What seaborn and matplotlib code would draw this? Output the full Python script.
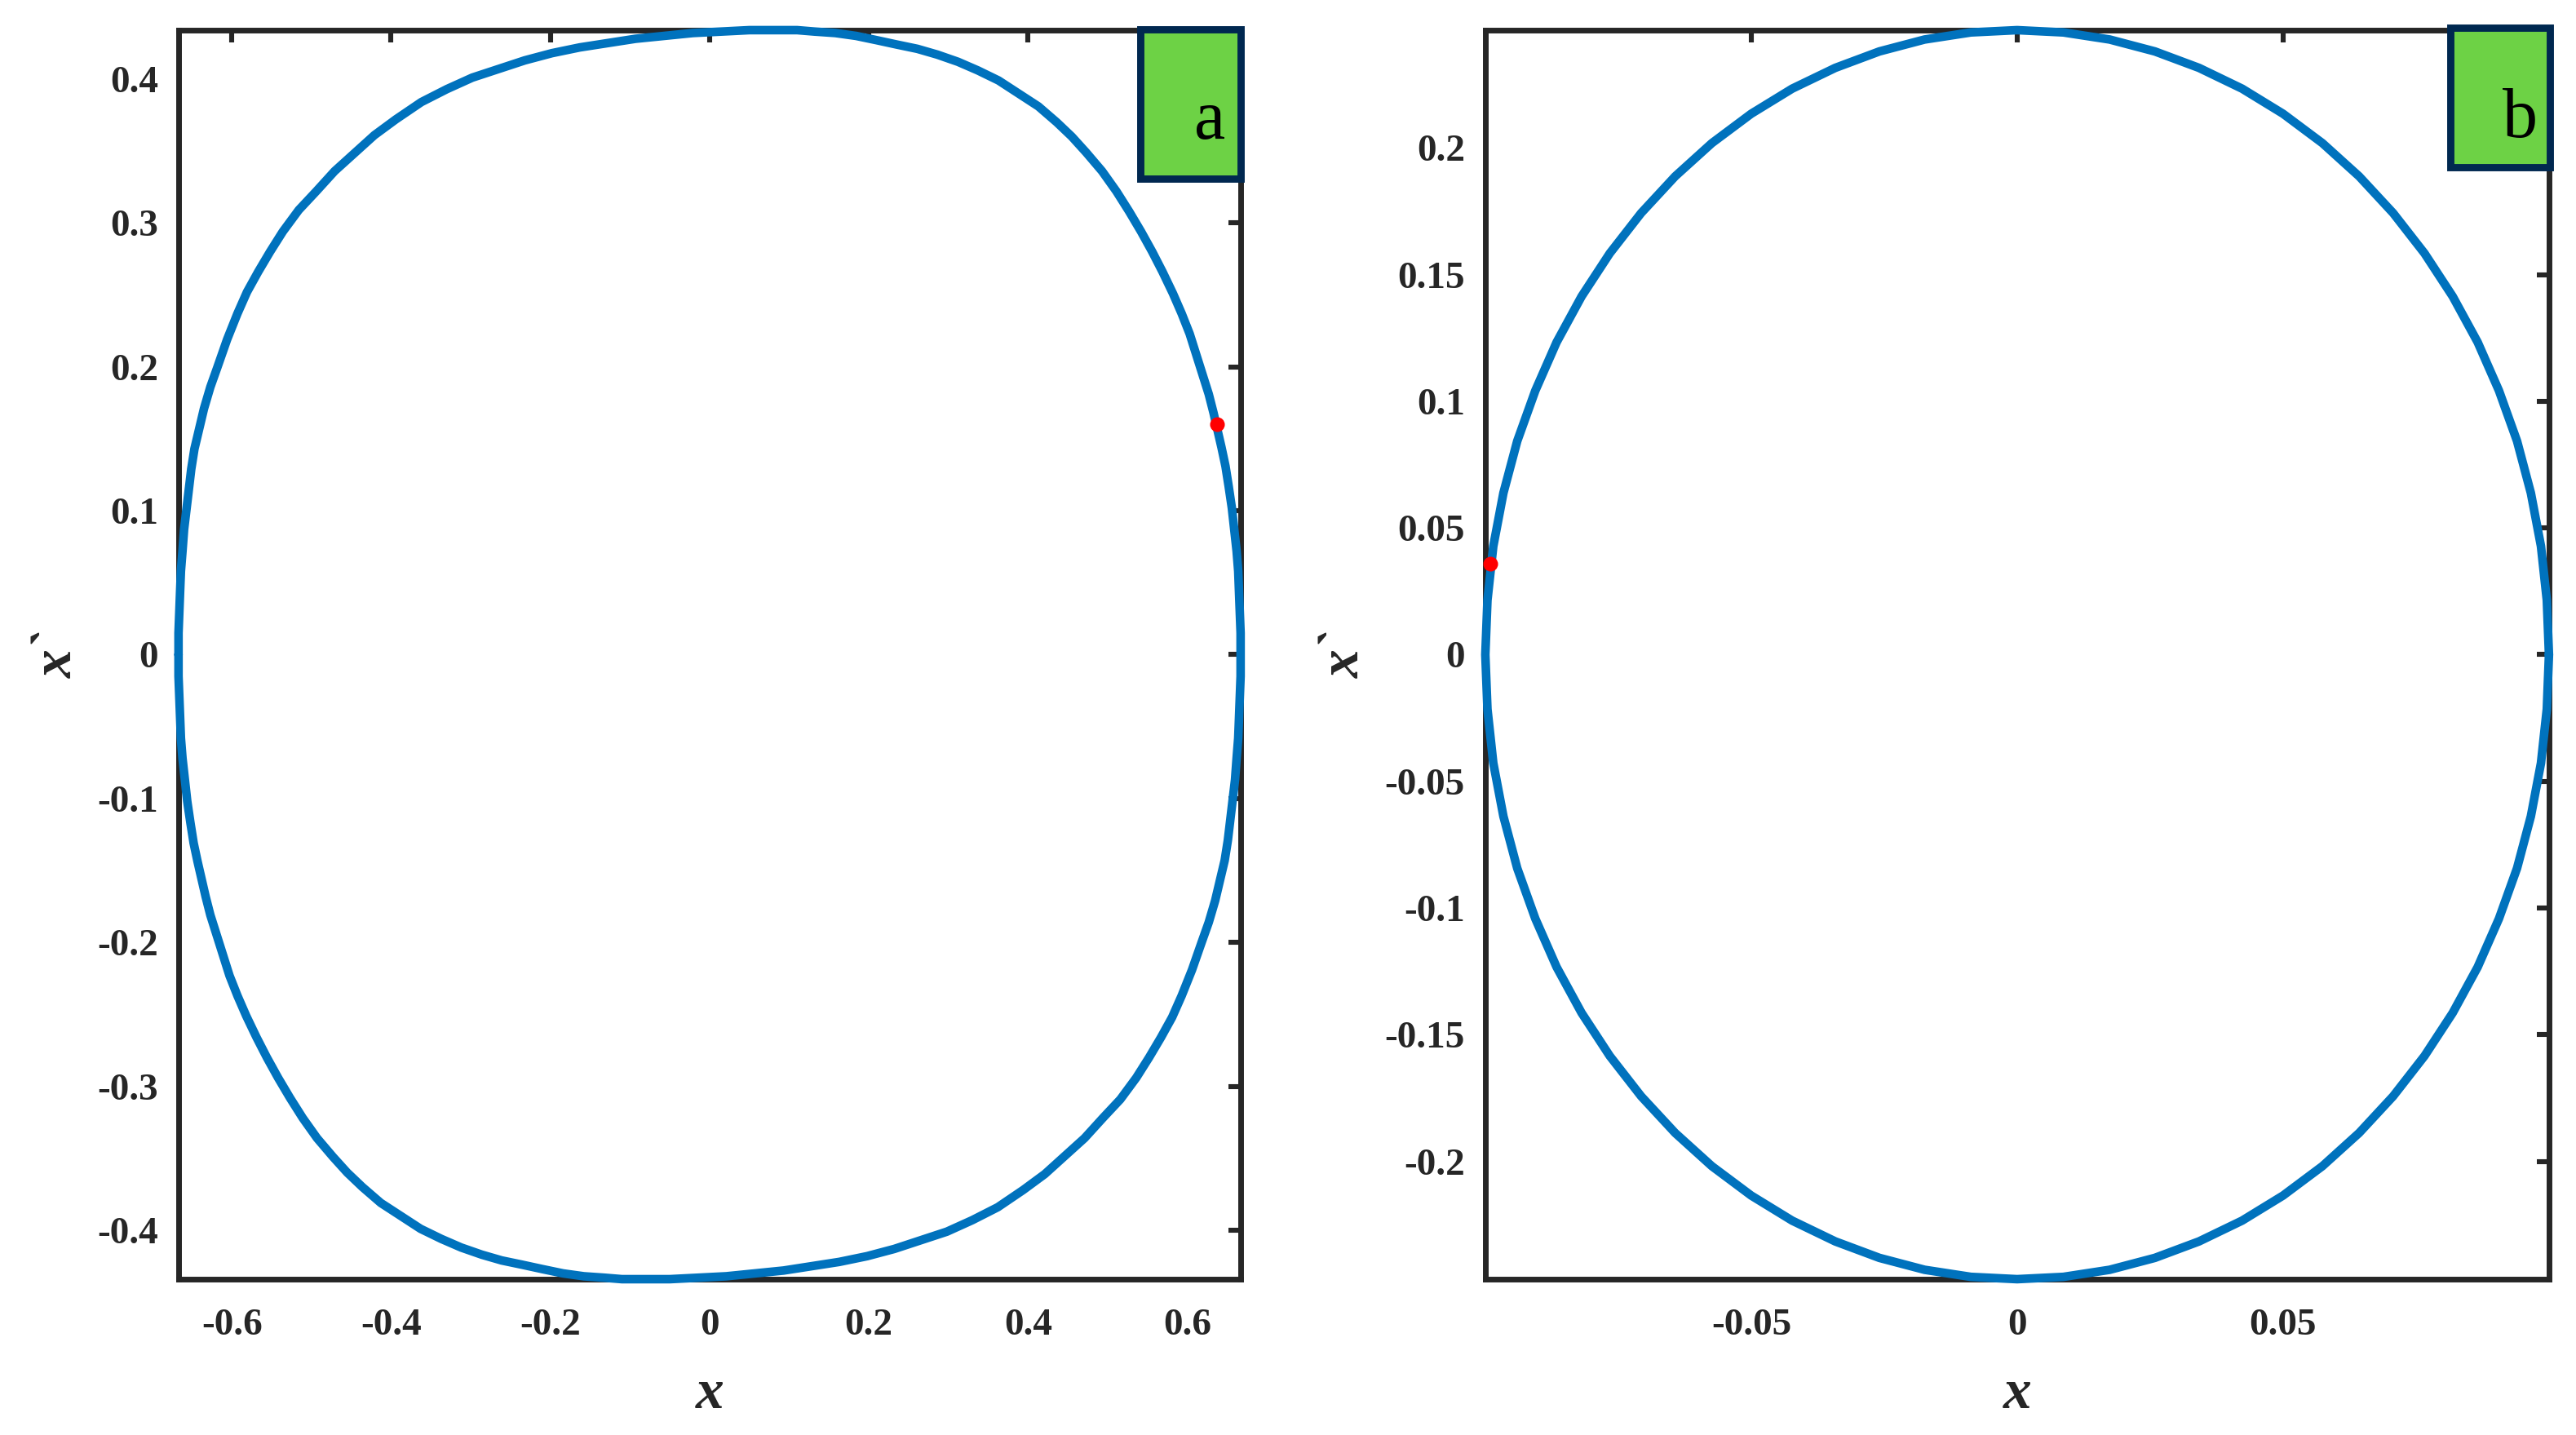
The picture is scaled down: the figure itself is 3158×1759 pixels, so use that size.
import matplotlib
matplotlib.use("Agg")
import matplotlib.pyplot as plt
import seaborn as sns
import pandas as pd
from matplotlib.patches import Rectangle

# panel (a): phase trajectory (x, x')
x_a = [-0.667, -0.667, -0.666, -0.665, -0.664, -0.662, -0.660, -0.657, -0.654, -0.651,
       -0.647, -0.641, -0.635, -0.627, -0.618, -0.606, -0.593, -0.581, -0.567, -0.552,
       -0.536, -0.516, -0.494, -0.471, -0.447, -0.421, -0.394, -0.362, -0.330, -0.298,
       -0.265, -0.232, -0.198, -0.163, -0.128, -0.093, -0.057, -0.021, 0.015, 0.050,
       0.081, 0.110, 0.132, 0.158, 0.184, 0.210, 0.235, 0.261, 0.286, 0.312,
       0.337, 0.363, 0.388, 0.413, 0.436, 0.455, 0.473, 0.493, 0.511, 0.527,
       0.542, 0.556, 0.569, 0.582, 0.593, 0.603, 0.611, 0.619, 0.627, 0.633,
       0.638, 0.643, 0.648, 0.652, 0.656, 0.659, 0.662, 0.664, 0.665, 0.666,
       0.667,
       0.667, 0.667, 0.666, 0.665, 0.664, 0.662, 0.660, 0.657, 0.654, 0.651,
       0.647, 0.641, 0.635, 0.627, 0.618, 0.606, 0.593, 0.581, 0.567, 0.552,
       0.536, 0.516, 0.494, 0.471, 0.447, 0.421, 0.394, 0.362, 0.330, 0.298,
       0.265, 0.232, 0.198, 0.163, 0.128, 0.093, 0.057, 0.021, -0.015, -0.050,
       -0.081, -0.110, -0.132, -0.158, -0.184, -0.210, -0.235, -0.261, -0.286, -0.312,
       -0.337, -0.363, -0.388, -0.413, -0.436, -0.455, -0.473, -0.493, -0.511, -0.527,
       -0.542, -0.556, -0.569, -0.582, -0.593, -0.603, -0.611, -0.619, -0.627, -0.633,
       -0.638, -0.643, -0.648, -0.652, -0.656, -0.659, -0.662, -0.664, -0.665, -0.666,
       -0.667, -0.667]
v_a = [0.000, 0.015, 0.030, 0.044, 0.058, 0.072, 0.087, 0.101, 0.115, 0.129,
       0.143, 0.157, 0.171, 0.186, 0.200, 0.219, 0.237, 0.252, 0.266, 0.280,
       0.294, 0.309, 0.322, 0.336, 0.348, 0.361, 0.372, 0.384, 0.393, 0.401,
       0.407, 0.413, 0.418, 0.422, 0.425, 0.428, 0.430, 0.432, 0.433, 0.434,
       0.434, 0.434, 0.433, 0.432, 0.430, 0.427, 0.424, 0.421, 0.417, 0.412,
       0.406, 0.399, 0.390, 0.381, 0.370, 0.360, 0.349, 0.336, 0.322, 0.308,
       0.294, 0.280, 0.266, 0.251, 0.237, 0.223, 0.209, 0.195, 0.181, 0.168,
       0.156, 0.144, 0.131, 0.117, 0.102, 0.087, 0.072, 0.058, 0.044, 0.030,
       0.015,
       0.000, -0.015, -0.030, -0.044, -0.058, -0.072, -0.087, -0.101, -0.115, -0.129,
       -0.143, -0.157, -0.171, -0.186, -0.200, -0.219, -0.237, -0.252, -0.266, -0.280,
       -0.294, -0.309, -0.322, -0.336, -0.348, -0.361, -0.372, -0.384, -0.393, -0.401,
       -0.407, -0.413, -0.418, -0.422, -0.425, -0.428, -0.430, -0.432, -0.433, -0.434,
       -0.434, -0.434, -0.433, -0.432, -0.430, -0.427, -0.424, -0.421, -0.417, -0.412,
       -0.406, -0.399, -0.390, -0.381, -0.370, -0.360, -0.349, -0.336, -0.322, -0.308,
       -0.294, -0.280, -0.266, -0.251, -0.237, -0.223, -0.209, -0.195, -0.181, -0.168,
       -0.156, -0.144, -0.131, -0.117, -0.102, -0.087, -0.072, -0.058, -0.044, -0.030,
       -0.015, 0.000]
dot_a = [0.637, 0.160]

# panel (b): phase trajectory
x_b = [0.1000, 0.0996, 0.0985, 0.0966, 0.0940, 0.0906, 0.0866, 0.0819, 0.0766, 0.0707,
       0.0643, 0.0574, 0.0500, 0.0423, 0.0342, 0.0259, 0.0174, 0.0087, 0.0000,
       -0.0087, -0.0174, -0.0259, -0.0342, -0.0423, -0.0500, -0.0574, -0.0643, -0.0707,
       -0.0766, -0.0819, -0.0866, -0.0906, -0.0940, -0.0966, -0.0985, -0.0996, -0.1000,
       -0.0996, -0.0985, -0.0966, -0.0940, -0.0906, -0.0866, -0.0819, -0.0766, -0.0707,
       -0.0643, -0.0574, -0.0500, -0.0423, -0.0342, -0.0259, -0.0174, -0.0087, 0.0000,
       0.0087, 0.0174, 0.0259, 0.0342, 0.0423, 0.0500, 0.0574, 0.0643, 0.0707,
       0.0766, 0.0819, 0.0866, 0.0906, 0.0940, 0.0966, 0.0985, 0.0996, 0.1000]
v_b = [0.0000, 0.0215, 0.0428, 0.0638, 0.0843, 0.1042, 0.1233, 0.1414, 0.1584, 0.1743,
       0.1888, 0.2019, 0.2135, 0.2234, 0.2316, 0.2381, 0.2428, 0.2456, 0.2465,
       0.2456, 0.2428, 0.2381, 0.2316, 0.2234, 0.2135, 0.2019, 0.1888, 0.1743,
       0.1584, 0.1414, 0.1233, 0.1042, 0.0843, 0.0638, 0.0428, 0.0215, 0.0000,
       -0.0215, -0.0428, -0.0638, -0.0843, -0.1042, -0.1233, -0.1414, -0.1584, -0.1743,
       -0.1888, -0.2019, -0.2135, -0.2234, -0.2316, -0.2381, -0.2428, -0.2456, -0.2465,
       -0.2456, -0.2428, -0.2381, -0.2316, -0.2234, -0.2135, -0.2019, -0.1888, -0.1743,
       -0.1584, -0.1414, -0.1233, -0.1042, -0.0843, -0.0638, -0.0428, -0.0215, 0.0000]
dot_b = [-0.099, 0.036]

xticks_a = [-0.6, -0.4, -0.2, 0, 0.2, 0.4, 0.6]
xlabels_a = ["-0.6", "-0.4", "-0.2", "0", "0.2", "0.4", "0.6"]
yticks_a = [-0.4, -0.3, -0.2, -0.1, 0, 0.1, 0.2, 0.3, 0.4]
ylabels_a = ["-0.4", "-0.3", "-0.2", "-0.1", "0", "0.1", "0.2", "0.3", "0.4"]
xticks_b = [-0.05, 0, 0.05]
xlabels_b = ["-0.05", "0", "0.05"]
yticks_b = [-0.2, -0.15, -0.1, -0.05, 0, 0.05, 0.1, 0.15, 0.2]
ylabels_b = ["-0.2", "-0.15", "-0.1", "-0.05", "0", "0.05", "0.1", "0.15", "0.2"]
panel_tags = ["a", "b"]

sns.set_style("white")
plt.rcParams["font.family"] = ["Liberation Serif", "DejaVu Serif"]
plt.rcParams["axes.unicode_minus"] = False

line_color = "#0072BD"
spine_color = "#262626"

fig = plt.figure(figsize=(15.79, 8.795), dpi=200)
ax1 = fig.add_axes([0.0693, 0.1086, 0.4123, 0.8704])
ax2 = fig.add_axes([0.5766, 0.1086, 0.4129, 0.8704])

panels = [
    (ax1, x_a, v_a, dot_a, xticks_a, xlabels_a, yticks_a, ylabels_a),
    (ax2, x_b, v_b, dot_b, xticks_b, xlabels_b, yticks_b, ylabels_b),
]

for ax, xs, vs, dot, xt, xl, yt, yl in panels:
    df = pd.DataFrame({"x": xs, "v": vs})
    sns.lineplot(data=df, x="x", y="v", sort=False, estimator=None,
                 color=line_color, linewidth=3.8, ax=ax, zorder=3, clip_on=False,
                 solid_joinstyle="round", solid_capstyle="round")
    ax.plot(dot[0], dot[1], "o", color="red", markersize=5.5, zorder=4, clip_on=False)
    ax.set_xlim(min(xs), max(xs))
    ax.set_ylim(min(vs), max(vs))
    ax.set_xticks(xt)
    ax.set_xticklabels(xl)
    ax.set_yticks(yt)
    ax.set_yticklabels(yl)
    ax.tick_params(direction="in", length=5.5, width=2.2, color=spine_color,
                   top=True, right=True, labelsize=17, pad=9)
    ax.tick_params(axis="x", pad=13)
    for lab in ax.get_xticklabels() + ax.get_yticklabels():
        lab.set_fontweight("bold")
    for sp in ax.spines.values():
        sp.set_visible(True)
        sp.set_color(spine_color)
        sp.set_linewidth(2.5)
    ax.set_xlabel("x", fontsize=25, fontstyle="italic", fontweight="bold", labelpad=11)
    ax.set_ylabel("x`", fontsize=25, fontstyle="italic", fontweight="bold", labelpad=6)

# green panel tags
tag_boxes = [(0.4428, 0.8757, 0.0387, 0.1041, 0.4696, 0.9034),
             (0.9511, 0.8837, 0.0387, 0.0967, 0.9782, 0.9045)]
for (bx, by, bw, bh, tx, ty), tag in zip(tag_boxes, panel_tags):
    fig.patches.append(Rectangle((bx, by), bw, bh, transform=fig.transFigure,
                                 facecolor="#6DD245", edgecolor="#002850",
                                 linewidth=3.2, zorder=10))
    fig.text(tx, ty, tag, fontsize=31, ha="center", va="baseline", color="black",
             zorder=11)

fig.savefig("out.png", dpi=200, facecolor="white")
